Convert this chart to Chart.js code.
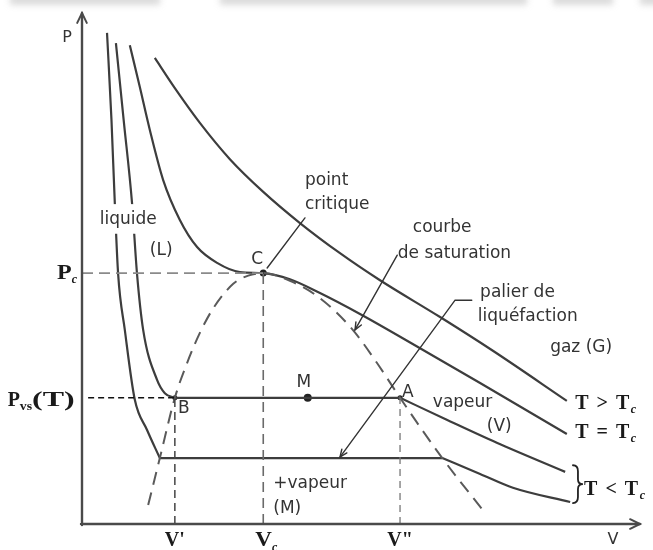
<!DOCTYPE html>
<html>
<head>
<meta charset="utf-8">
<script src="https://cdn.jsdelivr.net/npm/chart.js@4/dist/chart.umd.min.js"></script>
<style>
  html, body { margin: 0; padding: 0; background: #fff; }
  #wrap { width: 653px; height: 550px; position: relative; }
</style>
</head>
<body>
<div id="wrap"><canvas id="clapeyron"></canvas></div>
<script>
// critical point and saturation levels (V and P in arbitrary units, 0..10)
const Vc = 3.26, Pc = 4.91;
const Pvs = 2.47, Vliq = 1.67, Vvap = 5.72;   // B, A on the upper plateau
const Plow = 1.29, VliqLow = 1.40, VvapLow = 6.48;
const Vm = 4.06;                               // point M on the plateau

// isotherm T > Tc
const hotV = [1.31, 1.67, 2.12, 2.66, 3.26, 3.92, 4.64, 5.36, 6.44, 7.39, 8.72];
const hotP = [9.12, 8.53, 7.85, 7.14, 6.50, 5.89, 5.30, 4.77, 4.05, 3.39, 2.41];

// critical isotherm T = Tc, flat at C
const critV = [0.86, 1.04, 1.22, 1.46, 1.76, 2.07, 2.43, 2.84, 3.26, 3.74, 4.28, 5.00, 6.08, 7.16, 8.72];
const critP = [9.37, 8.55, 7.71, 6.73, 5.95, 5.42, 5.11, 4.93, 4.91, 4.79, 4.52, 4.11, 3.44, 2.76, 1.76];

// upper T < Tc isotherm: liquid branch, then vapour branch after A
const warmLiqV = [0.61, 0.75, 0.90, 0.99, 1.10, 1.35, 1.49, 1.67];
const warmLiqP = [9.41, 7.90, 6.28, 4.89, 3.80, 2.82, 2.56, 2.47];
const warmVapV = [5.72, 6.56, 7.46, 8.69];
const warmVapP = [2.47, 2.04, 1.59, 1.02];

// lower T < Tc isotherm
const coldLiqV = [0.45, 0.53, 0.59, 0.65, 0.77, 0.95, 1.17, 1.40];
const coldLiqP = [9.61, 7.91, 6.28, 4.89, 3.80, 2.43, 1.84, 1.29];
const coldVapV = [6.48, 7.16, 7.75, 8.78];
const coldVapP = [1.29, 0.98, 0.71, 0.43];

// saturation (bell) curve through B, C, A
const satV = [1.19, 1.40, 1.67, 1.89, 2.12, 2.36, 2.72, 2.99, 3.26, 3.74, 4.28, 4.87, 5.30, 5.72, 6.48, 7.21];
const satP = [0.37, 1.29, 2.47, 3.15, 3.74, 4.22, 4.70, 4.86, 4.91, 4.76, 4.42, 3.80, 3.16, 2.47, 1.29, 0.27];

const pts = (vs, ps) => vs.map((v, i) => ({ x: v, y: ps[i] }));

const INK = '#3d3d3d';

function curve(vs, ps) {
  return {
    data: pts(vs, ps),
    borderColor: INK,
    borderWidth: 2.2,
    cubicInterpolationMode: 'monotone',
    pointRadius: 0,
  };
}

function segment(a, b, color, width, dash) {
  return {
    data: [a, b],
    borderColor: color,
    borderWidth: width,
    borderDash: dash || [],
    pointRadius: 0,
  };
}

const datasets = [
  // guide lines
  segment({ x: 0, y: Pc }, { x: Vc, y: Pc }, '#8a8a8a', 1.6, [11, 6]),
  segment({ x: Vc, y: 0 }, { x: Vc, y: Pc }, '#6a6a6a', 1.6, [10, 6]),
  segment({ x: 0.11, y: Pvs }, { x: Vliq, y: Pvs }, '#111', 1.5, [6, 4]),
  segment({ x: Vliq, y: 0 }, { x: Vliq, y: Pvs }, '#444', 1.5, [8, 5]),
  segment({ x: Vvap, y: 0 }, { x: Vvap, y: Pvs }, '#777', 1.3, [7, 5]),
  // saturation curve
  Object.assign(curve(satV, satP), { borderColor: '#5a5a5a', borderWidth: 2, borderDash: [13, 8] }),
  // isotherms
  curve(hotV, hotP),
  curve(critV, critP),
  curve(warmLiqV, warmLiqP),
  segment({ x: Vliq, y: Pvs }, { x: Vvap, y: Pvs }, INK, 2.2),
  curve(warmVapV, warmVapP),
  curve(coldLiqV, coldLiqP),
  segment({ x: VliqLow, y: Plow }, { x: VvapLow, y: Plow }, INK, 2.2),
  curve(coldVapV, coldVapP),
  // C, B, M, A
  {
    data: [{ x: Vc, y: Pc }, { x: Vliq, y: Pvs }, { x: Vm, y: Pvs }, { x: Vvap, y: Pvs }],
    showLine: false,
    pointRadius: [3.5, 2.5, 4, 2.5],
    pointBackgroundColor: '#222',
    pointBorderWidth: 0,
  },
];

// words placed on the diagram: [text, V, P]
const notes = [
  ['point', 4.01, 6.73], ['critique', 4.01, 6.26],
  ['courbe', 5.95, 5.81], ['de saturation', 5.68, 5.30],
  ['palier de', 7.16, 4.52], ['liquéfaction', 7.12, 4.05],
  ['gaz (G)', 8.42, 3.46], ['vapeur', 6.31, 2.37], ['(V)', 7.28, 1.90],
  ['liquide', 0.32, 5.95], ['(L)', 1.22, 5.36],
  ['+vapeur', 3.44, 0.80], ['(M)', 3.44, 0.31],
];
const letters = [['C', 3.15, 5.17], ['M', 3.99, 2.76], ['B', 1.83, 2.25], ['A', 5.86, 2.58]];

const SANS = '17px "DejaVu Sans", sans-serif';
const SERIF = 'bold 20px "Liberation Serif", "DejaVu Serif", serif';
const SERIF_T = 'bold 20px "Liberation Serif", "DejaVu Serif", serif';
const SUB = 'bold italic 12px "Liberation Serif", "DejaVu Serif", serif';
const SUB_VS = 'bold 12px "Liberation Serif", "DejaVu Serif", serif';

// draws a run of differently styled pieces; sx stretches a piece sideways
function rich(ctx, parts, x, y, align) {
  let w = 0;
  parts.forEach(p => { ctx.font = p.font; w += ctx.measureText(p.t).width * (p.sx || 1); });
  let cx = align === 'right' ? x - w : align === 'center' ? x - w / 2 : x;
  parts.forEach(p => {
    ctx.font = p.font;
    const sx = p.sx || 1;
    ctx.save();
    ctx.translate(cx, y + (p.dy || 0));
    ctx.scale(sx, 1);
    ctx.fillText(p.t, 0, 0);
    ctx.restore();
    cx += ctx.measureText(p.t).width * sx;
  });
}

function openHead(ctx, fx, fy, tx, ty, len, spread) {
  const ang = Math.atan2(ty - fy, tx - fx);
  ctx.beginPath();
  ctx.moveTo(tx - len * Math.cos(ang - spread), ty - len * Math.sin(ang - spread));
  ctx.lineTo(tx, ty);
  ctx.lineTo(tx - len * Math.cos(ang + spread), ty - len * Math.sin(ang + spread));
  ctx.stroke();
}

const diagramText = {
  id: 'diagramText',
  afterDatasetsDraw(chart) {
    const { ctx, chartArea: a, scales } = chart;
    const X = v => scales.x.getPixelForValue(v);
    const Y = p => scales.y.getPixelForValue(p);
    ctx.save();

    // faded strip along the top edge
    ctx.filter = 'blur(3px)';
    ctx.fillStyle = 'rgba(175,175,175,0.45)';
    [[10, 160], [220, 527], [553, 613], [640, 670]].forEach(([l, r]) => ctx.fillRect(l, -6, r - l, 11));
    ctx.filter = 'none';

    // axes with arrows
    ctx.strokeStyle = '#4a4a4a';
    ctx.lineWidth = 2.4;
    ctx.lineCap = 'round';
    ctx.beginPath();
    ctx.moveTo(a.left, a.bottom + 1);
    ctx.lineTo(a.left, a.top);
    ctx.moveTo(a.left - 1, a.bottom);
    ctx.lineTo(a.right + 2, a.bottom);
    ctx.stroke();
    ctx.lineWidth = 2;
    openHead(ctx, a.left, a.top + 20, a.left, a.top, 11, 0.45);
    openHead(ctx, a.right - 20, a.bottom, a.right + 2, a.bottom, 11, 0.45);

    // leader lines
    ctx.strokeStyle = '#333';
    ctx.lineWidth = 1.4;
    ctx.beginPath();
    ctx.moveTo(X(3.33), Y(5.01));
    ctx.lineTo(X(4.01), Y(5.99));
    ctx.moveTo(X(5.67), Y(5.26));
    ctx.lineTo(X(4.91), Y(3.80));
    ctx.moveTo(X(7.01), Y(4.38));
    ctx.lineTo(X(6.71), Y(4.38));
    ctx.lineTo(X(4.64), Y(1.31));
    ctx.stroke();
    openHead(ctx, X(5.67), Y(5.26), X(4.91), Y(3.80), 8, 0.4);
    openHead(ctx, X(6.71), Y(4.38), X(4.64), Y(1.31), 8, 0.4);

    // brace grouping the two T < Tc isotherms
    const bx = X(8.92), bt = Y(1.15), bb = Y(0.41), bm = (bt + bb) / 2;
    ctx.lineWidth = 1.8;
    ctx.strokeStyle = '#222';
    ctx.beginPath();
    ctx.moveTo(bx - 5, bt);
    ctx.quadraticCurveTo(bx, bt, bx, bt + 6);
    ctx.lineTo(bx, bm - 5);
    ctx.quadraticCurveTo(bx, bm, bx + 5, bm);
    ctx.quadraticCurveTo(bx, bm, bx, bm + 5);
    ctx.lineTo(bx, bb - 6);
    ctx.quadraticCurveTo(bx, bb, bx - 5, bb);
    ctx.stroke();

    // white gap behind "liquide"
    ctx.fillStyle = '#fff';
    ctx.fillRect(X(0.27), Y(6.26), X(1.40) - X(0.27), Y(5.68) - Y(6.26));

    // plain labels
    ctx.fillStyle = '#333';
    ctx.font = SANS;
    ctx.textAlign = 'left';
    ctx.textBaseline = 'middle';
    notes.forEach(([t, v, p]) => ctx.fillText(t, X(v), Y(p)));
    ctx.textAlign = 'center';
    letters.forEach(([t, v, p]) => ctx.fillText(t, X(v), Y(p)));
    ctx.font = '16px "DejaVu Sans", sans-serif';
    ctx.fillText('P', X(-0.27), Y(9.51));
    ctx.fillText('V', X(9.55), Y(-0.31));

    // symbol labels
    ctx.fillStyle = '#1a1a1a';
    ctx.textAlign = 'left';
    ctx.textBaseline = 'alphabetic';
    rich(ctx, [{ t: 'P', font: SERIF, sx: 1.2 }, { t: 'c', font: SUB, dy: 4 }], X(-0.09), Y(Pc) + 6, 'right');
    rich(ctx, [{ t: 'P', font: SERIF }, { t: 'vs', font: SUB_VS, dy: 4, sx: 1.15 }, { t: '(T)', font: SERIF, sx: 1.6 }], X(-0.13), Y(Pvs) + 8, 'right');
    rich(ctx, [{ t: "V'", font: SERIF }], X(Vliq), Y(-0.43), 'center');
    rich(ctx, [{ t: 'V', font: SERIF, sx: 1.15 }, { t: 'c', font: SUB, dy: 5 }], X(Vc) + 3, Y(-0.43), 'center');
    rich(ctx, [{ t: 'V"', font: SERIF }], X(Vvap), Y(-0.43), 'center');
    ctx.letterSpacing = '1.5px';
    rich(ctx, [{ t: 'T > T', font: SERIF_T }, { t: 'c', font: SUB, dy: 4 }], X(8.87), Y(2.25), 'left');
    rich(ctx, [{ t: 'T = T', font: SERIF_T }, { t: 'c', font: SUB, dy: 4 }], X(8.87), Y(1.68), 'left');
    rich(ctx, [{ t: 'T < T', font: SERIF_T }, { t: 'c', font: SUB, dy: 4 }], X(9.03), Y(0.57), 'left');

    ctx.restore();
  },
};

new Chart(document.getElementById('clapeyron'), {
  type: 'line',
  data: { datasets },
  options: {
    responsive: true,
    maintainAspectRatio: false,
    animation: false,
    layout: { padding: { left: 82, right: 15, top: 13, bottom: 26 } },
    scales: {
      x: { type: 'linear', min: 0, max: 10, display: false },
      y: { type: 'linear', min: 0, max: 10, display: false },
    },
    plugins: { legend: { display: false }, tooltip: { enabled: false } },
    elements: { point: { radius: 0 } },
  },
  plugins: [diagramText],
});
</script>
</body>
</html>
